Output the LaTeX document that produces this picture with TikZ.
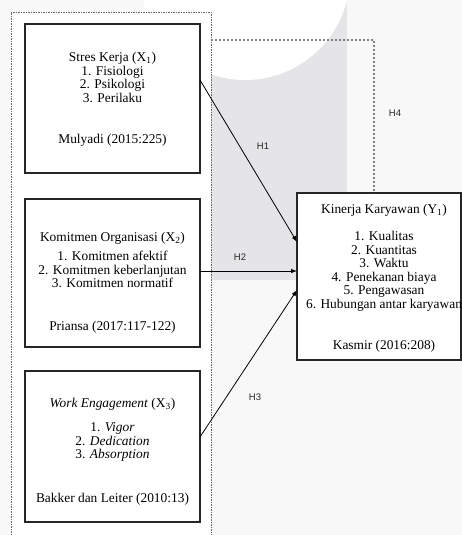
\documentclass[tikz,border=0pt]{standalone}
\usepackage{fontspec}
\setmainfont{Liberation Serif}
\newfontfamily\lblfont{Liberation Sans}
\usetikzlibrary{arrows.meta,calc}
\definecolor{wmgray}{RGB}{229,229,231}
\definecolor{bglight}{RGB}{248,248,248}
\begin{document}
\begin{tikzpicture}[x=1pt,y=-1pt,
  bx/.style={draw=black!85,line width=1.9pt,inner sep=0pt,outer sep=0pt},
  txt/.style={align=center,font=\fontsize{13.4}{13.6}\selectfont,inner sep=0pt},
  hl/.style={font=\lblfont\fontsize{9.5}{11}\selectfont,inner sep=0pt,text=black!85},
  arr/.style={line width=0.8pt,-{Latex[length=6pt,width=4.5pt]}},
  dsh/.style={draw=black!60,line width=0.6pt,dash pattern=on 1.5pt off 1pt},
  dshb/.style={draw=black!50,line width=1.1pt,dash pattern=on 2pt off 2pt}]
\useasboundingbox (0,0) rectangle (462,535);
% background and watermark
\fill[bglight] (0,0) rectangle (462,535);
\fill[white] (11,12) rectangle (211,535);
\fill[wmgray] (211,0) rectangle (347,280);
\fill[white] (245,-25) circle (105);
% dashed container
\draw[dsh] (11,535) -- (11,12) -- (211,12) -- (211,535);
% boxes
\node[bx,fill=white,minimum width=175pt,minimum height=149pt] (x1) at (112.5,98.5) {};
\node[bx,fill=white,minimum width=175pt,minimum height=148pt] (x2) at (112.5,273) {};
\node[bx,fill=white,minimum width=175pt,minimum height=151pt] (x3) at (112.5,446.5) {};
\node[bx,fill=white,minimum width=164pt,minimum height=167pt] (y) at (379,276.5) {};
% texts
\node[txt] (x1t) at (112.5,99.5) {Stres Kerja (X\textsubscript{1})\\1. Fisiologi\\2. Psikologi\\3. Perilaku\\[28pt]Mulyadi (2015:225)};
\node[txt] (x2t) at (112.5,283) {Komitmen Organisasi (X\textsubscript{2})\\[5.5pt]1. Komitmen afektif\\2. Komitmen keberlanjutan\\3. Komitmen normatif\\[29.5pt]Priansa (2017:117-122)};
\node[txt] (x3t) at (112.5,452) {\textit{Work Engagement} (X\textsubscript{3})\\[10.5pt]1. \textit{Vigor}\\2. \textit{Dedication}\\3. \textit{Absorption}\\[30.5pt]Bakker dan Leiter (2010:13)};
\node[txt] (yt) at (384,278) {Kinerja Karyawan (Y\textsubscript{1})\\[13.5pt]1. Kualitas\\2. Kuantitas\\3. Waktu\\4. Penekanan biaya\\5. Pengawasan\\6. Hubungan antar karyawan\\[27pt]Kasmir (2016:208)};
% H4 dashed path
\coordinate (h4s) at (211,40);
\coordinate (h4c) at (374,40);
\draw[dshb] (h4s) -- (h4c) -- (h4c |- y.north);
% arrows
\draw[arr] ($(x1.north east)+(0,56)$) -- ($(y.north west)+(0,49)$);
\draw[arr] ($(x2.north east)+(0,72)$) -- ($(y.north west)+(0,78)$);
\draw[arr] ($(x3.north east)+(0,66)$) -- ($(y.north west)+(0,97)$);
% labels
\node[hl] (h1) at (263,146) {H1};
\node[hl] (h2) at (240,257) {H2};
\node[hl] (h3) at (255,397) {H3};
\node[hl] (h4) at (395,113) {H4};
\end{tikzpicture}
\end{document}
